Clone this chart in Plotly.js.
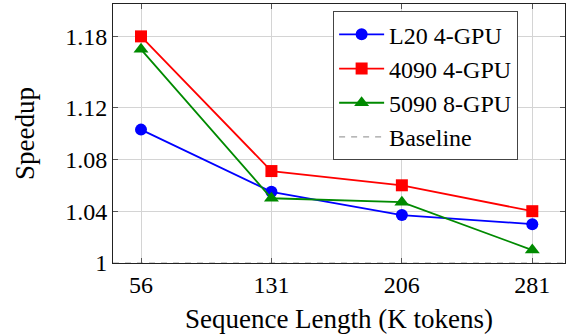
<!DOCTYPE html>
<html>
<head>
<meta charset="utf-8">
<script src="https://cdn.plot.ly/plotly-3.0.1.min.js"></script>
<style>html,body{margin:0;padding:0;background:#fff;} #chart{width:573px;height:334px;}</style>
</head>
<body>
<div id="chart"></div>
<script>
// Data
const seqLengths = [56, 131, 206, 281];
const l20_4gpu = [1.103, 1.055, 1.037, 1.030];
const rtx4090_4gpu = [1.175, 1.071, 1.060, 1.040];
const rtx5090_8gpu = [1.165, 1.050, 1.047, 1.010];
const baselineValue = 1;
const yTickVals = [1, 1.04, 1.08, 1.12, 1.175];
const yTickText = ["1", "1.04", "1.08", "1.12", "1.18"];
const xRange = [39.9, 299.8];

const FONT = "'Liberation Serif', 'DejaVu Serif', serif";

const traces = [
  {x: seqLengths, y: l20_4gpu, name: "L20 4-GPU", mode: "lines+markers",
   line: {color: "#0000ff", width: 1.8}, marker: {symbol: "circle", size: 12, color: "#0000ff"}},
  {x: seqLengths, y: rtx4090_4gpu, name: "4090 4-GPU", mode: "lines+markers",
   line: {color: "#ff0000", width: 1.8}, marker: {symbol: "square", size: 12, color: "#ff0000"}},
  {x: seqLengths, y: rtx5090_8gpu, name: "5090 8-GPU", mode: "lines+markers",
   line: {color: "#008a00", width: 1.8}, marker: {symbol: "triangle-up", size: 13, color: "#008a00"}},
  {x: xRange, y: [baselineValue, baselineValue], name: "Baseline", mode: "lines",
   line: {color: "#a0a0a0", width: 1.2, dash: "6px,6px"}, cliponaxis: false}
];

const layout = {
  width: 573, height: 334,
  margin: {l: 113, r: 8, t: 4, b: 71},
  paper_bgcolor: "#fff", plot_bgcolor: "#fff",
  font: {family: FONT, size: 24, color: "#000"},
  showlegend: true,
  legend: {
    x: 0.487, y: 0.972, xanchor: "left", yanchor: "top",
    bgcolor: "#fff", bordercolor: "#444", borderwidth: 1,
    font: {family: FONT, size: 24, color: "#000"},
    itemwidth: 45, tracegroupgap: 0
  },
  xaxis: {
    range: xRange, tickvals: seqLengths, ticktext: seqLengths.map(String),
    showgrid: true, gridcolor: "#d4d4d4", gridwidth: 1,
    zeroline: false, showline: true, linecolor: "#222", linewidth: 1, mirror: "ticks",
    ticks: "inside", ticklen: 5, tickcolor: "#555", tickwidth: 1,
    tickfont: {family: FONT, size: 24},
    title: {text: "Sequence Length (K tokens)", font: {family: FONT, size: 27}, standoff: 13}
  },
  yaxis: {
    range: [1, 1.2], tickvals: yTickVals, ticktext: yTickText,
    showgrid: true, gridcolor: "#d4d4d4", gridwidth: 1,
    zeroline: false, showline: true, linecolor: "#222", linewidth: 1, mirror: "ticks",
    ticks: "inside", ticklen: 5, tickcolor: "#555", tickwidth: 1,
    tickfont: {family: FONT, size: 24},
    title: {text: "Speedup", font: {family: FONT, size: 27}, standoff: 22}
  }
};

Plotly.newPlot("chart", traces, layout, {staticPlot: true, displayModeBar: false});
</script>
</body>
</html>
